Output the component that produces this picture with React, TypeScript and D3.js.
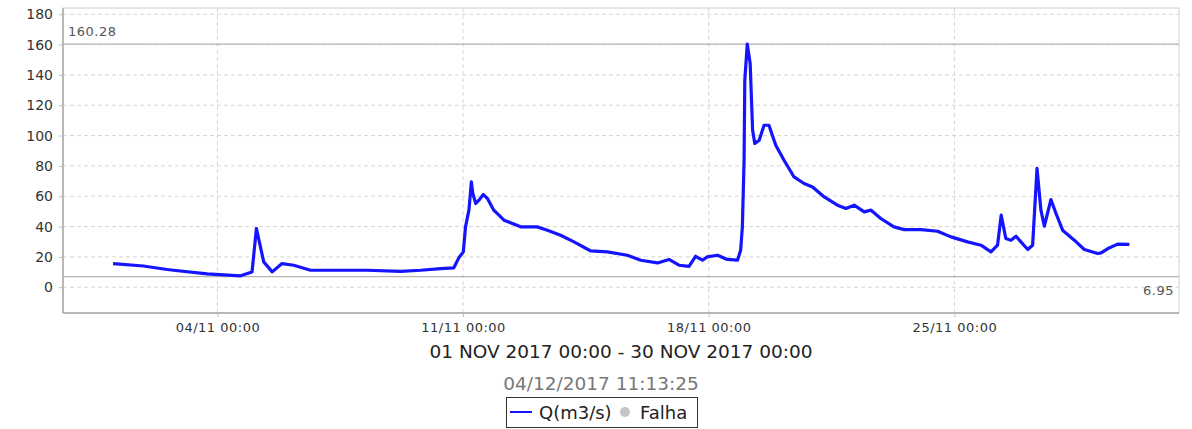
import { useEffect, useRef } from "react"
import * as d3 from "d3"

// flow readings (date, Q in m3/s)
const times = [
  "01/11/2017 00:40", "01/11/2017 21:20", "02/11/2017 13:40", "02/11/2017 18:00", "03/11/2017 17:00",
  "04/11/2017 15:50", "04/11/2017 23:40", "05/11/2017 02:40", "05/11/2017 07:40", "05/11/2017 13:30",
  "05/11/2017 20:10", "06/11/2017 04:10", "06/11/2017 15:40", "07/11/2017 07:40", "08/11/2017 06:30",
  "09/11/2017 05:20", "09/11/2017 19:00", "10/11/2017 08:40", "10/11/2017 17:40", "10/11/2017 21:10",
  "11/11/2017 00:10", "11/11/2017 01:40", "11/11/2017 04:00", "11/11/2017 05:40", "11/11/2017 06:40",
  "11/11/2017 08:40", "11/11/2017 10:50", "11/11/2017 13:50", "11/11/2017 16:40", "11/11/2017 21:00",
  "12/11/2017 04:00", "12/11/2017 15:20", "13/11/2017 02:40", "13/11/2017 09:40", "13/11/2017 18:40",
  "14/11/2017 03:50", "14/11/2017 15:20", "15/11/2017 02:40", "15/11/2017 16:20", "16/11/2017 01:30",
  "16/11/2017 13:00", "16/11/2017 20:50", "17/11/2017 03:40", "17/11/2017 10:30", "17/11/2017 15:00",
  "17/11/2017 19:40", "17/11/2017 23:00", "18/11/2017 06:00", "18/11/2017 12:40", "18/11/2017 19:40",
  "18/11/2017 21:50", "18/11/2017 23:00", "19/11/2017 00:10", "19/11/2017 00:40", "19/11/2017 02:20",
  "19/11/2017 04:20", "19/11/2017 06:00", "19/11/2017 07:30", "19/11/2017 10:30", "19/11/2017 13:50",
  "19/11/2017 17:10", "19/11/2017 21:50", "20/11/2017 03:30", "20/11/2017 10:20", "20/11/2017 17:10",
  "20/11/2017 23:00", "21/11/2017 07:00", "21/11/2017 16:00", "21/11/2017 21:50", "22/11/2017 03:30",
  "22/11/2017 10:20", "22/11/2017 15:00", "22/11/2017 21:40", "23/11/2017 06:40", "23/11/2017 13:40",
  "24/11/2017 01:10", "24/11/2017 12:30", "24/11/2017 21:40", "25/11/2017 09:00", "25/11/2017 18:10",
  "26/11/2017 01:00", "26/11/2017 05:30", "26/11/2017 08:00", "26/11/2017 11:10", "26/11/2017 14:40",
  "26/11/2017 18:10", "26/11/2017 21:30", "27/11/2017 02:10", "27/11/2017 05:30", "27/11/2017 08:30",
  "27/11/2017 11:10", "27/11/2017 13:30", "27/11/2017 18:00", "27/11/2017 21:30", "28/11/2017 02:00",
  "28/11/2017 10:00", "28/11/2017 16:50", "29/11/2017 02:00", "29/11/2017 04:20", "29/11/2017 09:00",
  "29/11/2017 15:40", "29/11/2017 23:40",
]
const flow = [
  15.6, 14.0, 11.7, 11.2, 8.8,
  7.5, 10.0, 38.7, 16.7, 10.1,
  15.6, 14.5, 11.2, 11.2, 11.2,
  10.5, 11.2, 12.3, 12.8, 19.5,
  23.3, 39.8, 50.8, 69.4, 61.8,
  55.2, 57.4, 61.1, 58.5, 50.8,
  44.2, 39.8, 39.8, 37.6, 34.3,
  29.9, 23.9, 23.3, 21.1, 17.8,
  16.0, 18.3, 14.5, 13.8, 20.4,
  17.8, 20.0, 21.1, 18.3, 17.8,
  24.4, 39.8, 83.7, 136.5, 160.3,
  147.5, 103.5, 94.7, 96.9, 106.8,
  106.8, 93.6, 83.7, 72.7, 68.4,
  66.1, 59.5, 54.1, 51.9, 54.1,
  49.7, 50.8, 45.3, 39.8, 38.0,
  38.0, 36.9, 33.2, 29.9, 27.7,
  23.3, 27.7, 47.5, 32.1, 31.0,
  33.6, 29.9, 24.9, 27.7, 78.3,
  50.8, 40.2, 57.8, 48.6, 37.6,
  31.0, 24.9, 22.2, 22.6, 25.5,
  28.4, 28.2,
]
const maxValue = 160.28
const minValue = 6.95
const yTicks = [0, 20, 40, 60, 80, 100, 120, 140, 160, 180]
const xTicks = ["04/11/2017 00:00", "11/11/2017 00:00", "18/11/2017 00:00", "25/11/2017 00:00"]
const periodLabel = "01 NOV 2017 00:00 - 30 NOV 2017 00:00"
const stampLabel = "04/12/2017 11:13:25"
const seriesName = "Q(m3/s)"
const failName = "Falha"

const App = () => {
  const svgRef = useRef<SVGSVGElement>(null)

  useEffect(() => {
    const W = 1192
    const H = 429
    const m = { top: 8, right: 13, bottom: 116, left: 63 }
    const w = W - m.left - m.right
    const h = H - m.top - m.bottom

    const parse = d3.timeParse("%d/%m/%Y %H:%M")
    const data = times.map((t, i) => ({ date: parse(t) as Date, q: flow[i] }))

    const start = parse("01/11/2017 00:00") as Date
    const end = parse("30/11/2017 00:00") as Date
    const pad = 1.4 * 24 * 3600 * 1000

    const x = d3.scaleTime()
      .domain([new Date(start.getTime() - pad), new Date(end.getTime() + pad)])
      .range([0, w])
    const y = d3.scaleLinear().domain([-17, 184.1]).range([h, 0])

    const svg = d3.select(svgRef.current)
    svg.selectAll("*").remove()
    const g = svg.append("g").attr("transform", `translate(${m.left},${m.top})`)

    const font = "DejaVu Sans, sans-serif"

    // grid
    g.selectAll(".hgrid").data(yTicks).enter().append("line")
      .attr("x1", 0).attr("x2", w)
      .attr("y1", d => y(d)).attr("y2", d => y(d))
      .attr("stroke", "#d6d6d6").attr("stroke-dasharray", "4,3")
    const xTickDates = xTicks.map(t => parse(t) as Date)
    g.selectAll(".vgrid").data(xTickDates).enter().append("line")
      .attr("x1", d => x(d)).attr("x2", d => x(d))
      .attr("y1", 0).attr("y2", h)
      .attr("stroke", "#d6d6d6").attr("stroke-dasharray", "4,3")

    // frame
    g.append("rect").attr("width", w).attr("height", h)
      .attr("fill", "none").attr("stroke", "#d0d0d0")
    g.append("line").attr("x1", 0).attr("x2", 0).attr("y1", 0).attr("y2", h)
      .attr("stroke", "#a8a8a8").attr("stroke-width", 1.5)
    g.append("line").attr("x1", 0).attr("x2", w).attr("y1", h).attr("y2", h)
      .attr("stroke", "#a8a8a8").attr("stroke-width", 1.5)

    // y axis
    const yAxis = g.append("g").call(d3.axisLeft(y).tickValues(yTicks).tickSize(4).tickPadding(6))
    yAxis.select(".domain").remove()
    yAxis.selectAll(".tick line").attr("stroke", "#bbb")
    yAxis.selectAll(".tick text").attr("fill", "#333").style("font", `14px ${font}`)

    // x axis
    const xAxis = g.append("g").attr("transform", `translate(0,${h})`)
      .call(d3.axisBottom(x).tickValues(xTickDates).tickSize(4).tickPadding(6)
        .tickFormat(d => d3.timeFormat("%d/%m %H:%M")(d as Date)))
    xAxis.select(".domain").remove()
    xAxis.selectAll(".tick line").attr("stroke", "#bbb")
    xAxis.selectAll(".tick text").attr("fill", "#333")
      .style("font", `13px ${font}`).style("letter-spacing", "0.5px")

    // max / min markers
    ;[maxValue, minValue].forEach(v => {
      g.append("line").attr("x1", 0).attr("x2", w).attr("y1", y(v)).attr("y2", y(v))
        .attr("stroke", "#b4b4b4").attr("stroke-width", 1.2)
    })
    g.append("text").attr("x", 5).attr("y", y(maxValue) - 8)
      .attr("fill", "#555").style("font", `13px ${font}`).style("letter-spacing", "0.5px")
      .text(maxValue.toFixed(2))
    g.append("text").attr("x", w - 5).attr("y", y(minValue) + 18).attr("text-anchor", "end")
      .attr("fill", "#555").style("font", `13px ${font}`).style("letter-spacing", "0.5px")
      .text(minValue.toFixed(2))

    // series
    const line = d3.line<{ date: Date; q: number }>()
      .x(d => x(d.date))
      .y(d => y(d.q))
    g.append("path").datum(data)
      .attr("fill", "none").attr("stroke", "#1414ff").attr("stroke-width", 3.2)
      .attr("stroke-linejoin", "round").attr("d", line)

    // captions
    svg.append("text").attr("x", m.left + w / 2).attr("y", 358).attr("text-anchor", "middle")
      .attr("fill", "#222").style("font", `18.5px ${font}`).text(periodLabel)
    svg.append("text").attr("x", 601).attr("y", 390).attr("text-anchor", "middle")
      .attr("fill", "#777").style("font", `18.5px ${font}`).text(stampLabel)

    // legend
    const lg = svg.append("g").attr("transform", "translate(506,397)")
    lg.append("rect").attr("x", 0.5).attr("y", 0.5).attr("width", 191).attr("height", 30)
      .attr("fill", "#fff").attr("stroke", "#333")
    lg.append("line").attr("x1", 4).attr("x2", 26).attr("y1", 15).attr("y2", 15)
      .attr("stroke", "#1414ff").attr("stroke-width", 2)
    lg.append("text").attr("x", 33).attr("y", 21.5).attr("fill", "#222")
      .style("font", `18px ${font}`).text(seriesName)
    lg.append("circle").attr("cx", 119).attr("cy", 15).attr("r", 5).attr("fill", "#c4c4c4")
    lg.append("text").attr("x", 134).attr("y", 21.5).attr("fill", "#222")
      .style("font", `18px ${font}`).text(failName)
  }, [])

  return (
    <svg ref={svgRef} width={1192} height={429}
      style={{ position: "absolute", left: 0, top: 0, background: "#fff" }} />
  )
}

export default App
